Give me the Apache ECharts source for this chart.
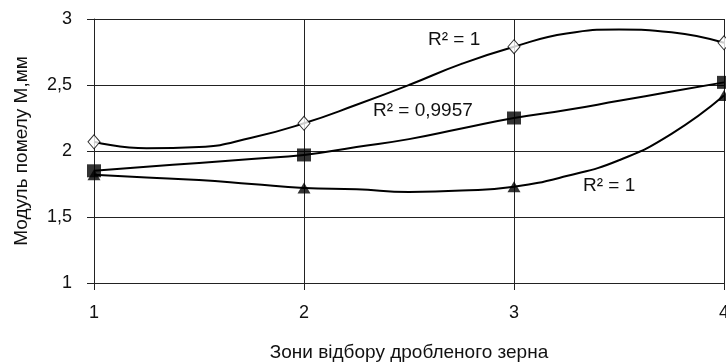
<!DOCTYPE html>
<html>
<head>
<meta charset="utf-8">
<script src="https://cdn.jsdelivr.net/npm/echarts@6/dist/echarts.min.js"></script>
<style>
html,body{margin:0;padding:0;background:#fff;}
#chart{width:726px;height:362px;}
</style>
</head>
<body>
<div id="chart"></div>
<script>
// Data
const zones = [1, 2, 3, 4];
const diamondVals = [2.07, 2.21, 2.79, 2.82];
const squareVals = [1.85, 1.97, 2.25, 2.52];
const triangleVals = [1.82, 1.72, 1.73, 2.42];

// Trendline shapes
const trendX = [1, 1.25, 1.5, 1.75, 2, 2.25, 2.5, 2.75, 3, 3.25, 3.5, 3.75, 4];
const diamondTrend = [2.07, 2.02, 2.03, 2.10, 2.21, 2.35, 2.50, 2.66, 2.79, 2.89, 2.92, 2.90, 2.82];
const squareTrend = [1.85, 1.88, 1.91, 1.94, 1.97, 2.03, 2.09, 2.17, 2.25, 2.31, 2.38, 2.45, 2.52];
const triangleTrend = [1.82, 1.80, 1.78, 1.75, 1.72, 1.71, 1.69, 1.70, 1.73, 1.81, 1.93, 2.13, 2.42];

const yTicks = ['1', '1,5', '2', '2,5', '3'];
const xTitle = 'Зони відбору дробленого зерна';
const yTitle = 'Модуль помелу М,мм';
const r2Labels = ['R² = 1', 'R² = 0,9957', 'R² = 1'];

const FONT = '"Liberation Sans", Arial, sans-serif';
const pair = (xs, ys) => xs.map((x, i) => [x, ys[i]]);

const chart = echarts.init(document.getElementById('chart'), null, {renderer: 'canvas'});
const lineStyle = {color: '#000', width: 2};

chart.setOption({
  animation: false,
  backgroundColor: '#fff',
  grid: {left: 94, right: 2, top: 19, bottom: 79, outerBoundsMode: 'none', containLabel: false},
  xAxis: {
    type: 'value', min: 1, max: 4, interval: 1,
    name: xTitle, nameLocation: 'middle', nameGap: 60,
    nameTextStyle: {fontFamily: FONT, fontSize: 19, color: '#111'},
    axisLine: {show: true, lineStyle: {color: '#222', width: 1}},
    axisTick: {show: true, length: 7, lineStyle: {color: '#222'}},
    axisLabel: {fontFamily: FONT, fontSize: 18, color: '#111', margin: 21},
    splitLine: {show: true, lineStyle: {color: '#222', width: 1}}
  },
  yAxis: {
    type: 'value', min: 1, max: 3, interval: 0.5,
    name: yTitle, nameLocation: 'middle', nameGap: 63,
    nameTextStyle: {fontFamily: FONT, fontSize: 19, color: '#111'},
    axisLine: {show: true, lineStyle: {color: '#222', width: 1}},
    axisTick: {show: true, length: 7, lineStyle: {color: '#222'}},
    axisLabel: {fontFamily: FONT, fontSize: 18, color: '#111', margin: 22,
      formatter: (v) => yTicks[Math.round((v - 1) / 0.5)]},
    splitLine: {show: true, lineStyle: {color: '#222', width: 1}}
  },
  series: [
    {type: 'line', data: pair(trendX, diamondTrend), smooth: true, symbol: 'none', lineStyle, z: 2},
    {type: 'line', data: pair(trendX, squareTrend), smooth: true, symbol: 'none', lineStyle, z: 2},
    {type: 'line', data: pair(trendX, triangleTrend), smooth: true, symbol: 'none', lineStyle, z: 2},
    {type: 'scatter', data: pair(zones, diamondVals), symbol: 'diamond', symbolSize: [12, 14],
      itemStyle: {color: '#fff', borderColor: '#000', borderWidth: 1}, z: 5},
    {type: 'scatter', data: pair(zones, squareVals), symbol: 'rect', symbolSize: [14, 13],
      itemStyle: {color: '#000'}, z: 5},
    {type: 'scatter', data: pair(zones, triangleVals), symbol: 'triangle', symbolSize: [13, 11],
      itemStyle: {color: '#000'}, z: 5}
  ],
  graphic: [
    {type: 'text', left: 428, top: 30, style: {text: r2Labels[0], font: '19px ' + FONT, fill: '#111'}},
    {type: 'text', left: 373, top: 101, style: {text: r2Labels[1], font: '19px ' + FONT, fill: '#111'}},
    {type: 'text', left: 583, top: 176, style: {text: r2Labels[2], font: '19px ' + FONT, fill: '#111'}}
  ]
});
</script>
</body>
</html>
